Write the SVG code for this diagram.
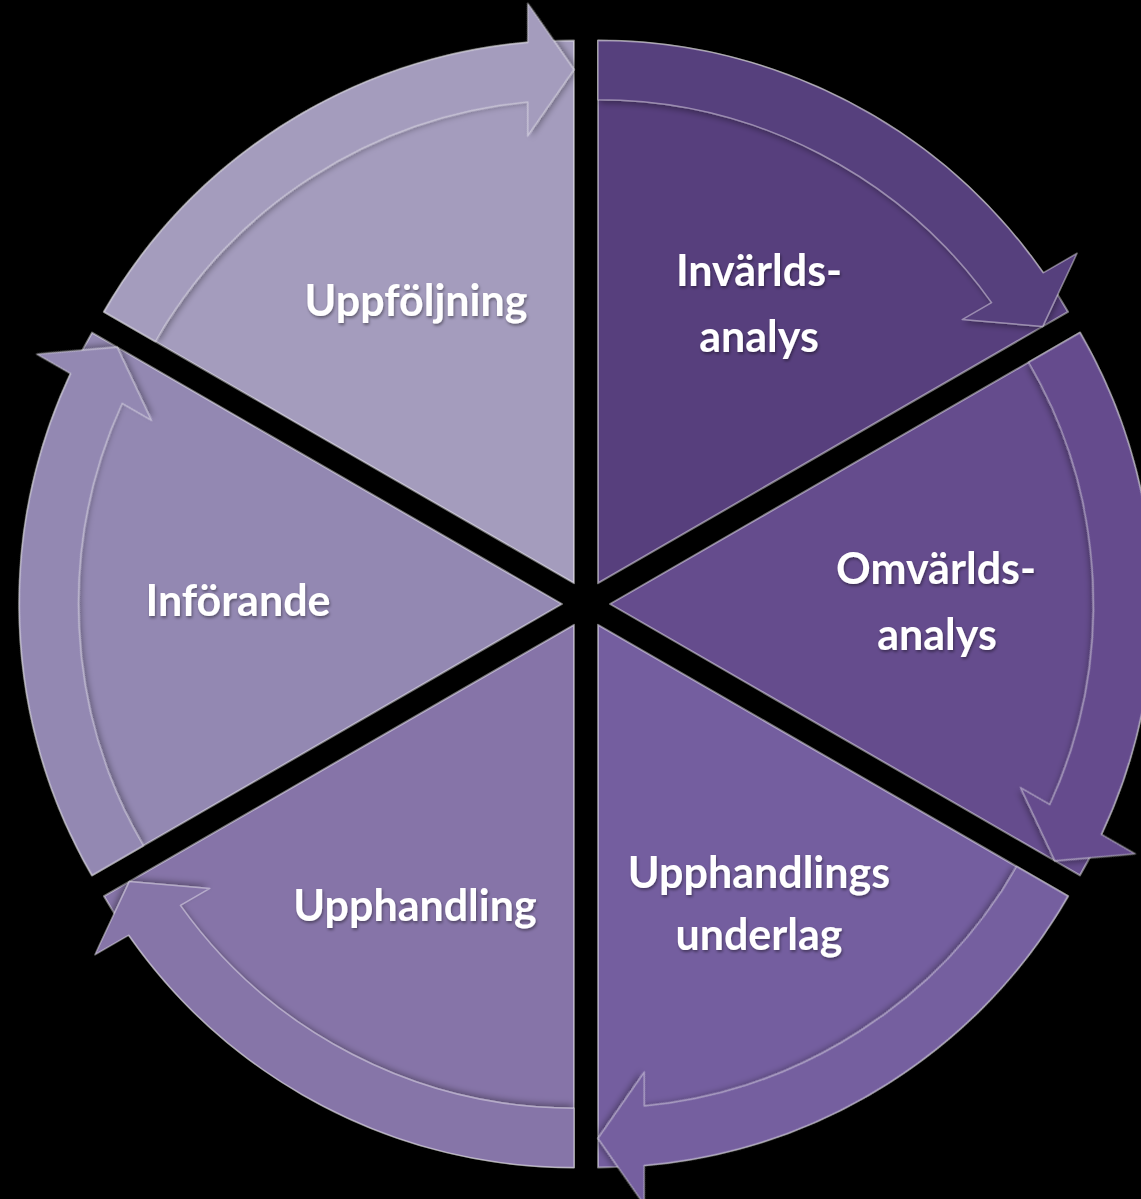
<svg xmlns="http://www.w3.org/2000/svg" width="1141" height="1199" viewBox="0 0 1141 1199">
<defs>
<style>
.lbl{font-family:Lato,"Open Sans","Liberation Sans",sans-serif;font-weight:bold;font-size:43px;fill:#fff;text-anchor:middle;filter:url(#ts)}
.body{stroke:#fff;stroke-opacity:.45;stroke-width:2;stroke-linejoin:round}
.arr{stroke:#fff;stroke-opacity:.4;stroke-width:1.5;stroke-linejoin:round;filter:url(#as)}
</style>
<filter id="ts" x="-10%" y="-20%" width="120%" height="150%"><feDropShadow dx="1" dy="2" stdDeviation="1.5" flood-color="#000" flood-opacity=".4"/></filter>
<filter id="as" x="-10%" y="-10%" width="120%" height="120%"><feDropShadow dx="2" dy="3" stdDeviation="3" flood-color="#000" flood-opacity=".35"/></filter>
<path id="sector" d="M0,0 L0,-540 A540,540 0 0 1 467.65,-270 Z"/>
<path id="arrow" d="M0,-540 A540,540 0 0 1 442.95,-308.86 L476.70,-328.34 L442.54,-255.5 L362.38,-262.34 L391.65,-279.24 A481,481 0 0 0 0,-481 Z"/>
</defs>
<rect x="0" y="0" width="1141" height="1199" fill="#000"/>
<g id="node-invarldsanalys">
<use href="#sector" class="body" fill="#573F7D" transform="translate(598,583.215) scale(1.005)"/>
<text class="lbl" x="759" y="286">Invärlds-</text>
<text class="lbl" x="759" y="352">analys</text>
</g>
<g id="node-omvarldsanalys">
<use href="#sector" class="body" fill="#654C8D" transform="translate(610,604) rotate(60) scale(1.005)"/>
<text class="lbl" x="936" y="584">Omvärlds-</text>
<text class="lbl" x="937" y="650">analys</text>
</g>
<g id="node-upphandlingsunderlag">
<use href="#sector" class="body" fill="#745E9F" transform="translate(598,624.785) rotate(120) scale(1.005)"/>
<text class="lbl" x="759" y="888">Upphandlings</text>
<text class="lbl" x="759" y="950">underlag</text>
</g>
<g id="node-upphandling">
<use href="#sector" class="body" fill="#8674A8" transform="translate(574,624.785) rotate(180) scale(1.005)"/>
<text class="lbl" x="415" y="921">Upphandling</text>
</g>
<g id="node-inforande">
<use href="#sector" class="body" fill="#9388B2" transform="translate(562,604) rotate(240) scale(1.005)"/>
<text class="lbl" x="238" y="616">Införande</text>
</g>
<g id="node-uppfoljning">
<use href="#sector" class="body" fill="#A49CBD" transform="translate(574,583.215) rotate(300) scale(1.005)"/>
<text class="lbl" x="416" y="316">Uppföljning</text>
</g>
<g id="connectors">
<use href="#arrow" class="arr" fill="#573F7D" transform="translate(598,583.215) scale(1.005)"/>
<use href="#arrow" class="arr" fill="#654C8D" transform="translate(610,604) rotate(60) scale(1.005)"/>
<use href="#arrow" class="arr" fill="#745E9F" transform="translate(598,624.785) rotate(120) scale(1.005)"/>
<use href="#arrow" class="arr" fill="#8674A8" transform="translate(574,624.785) rotate(180) scale(1.005)"/>
<use href="#arrow" class="arr" fill="#9388B2" transform="translate(562,604) rotate(240) scale(1.005)"/>
<use href="#arrow" class="arr" fill="#A49CBD" transform="translate(574,583.215) rotate(300) scale(1.005)"/>
</g>
</svg>
